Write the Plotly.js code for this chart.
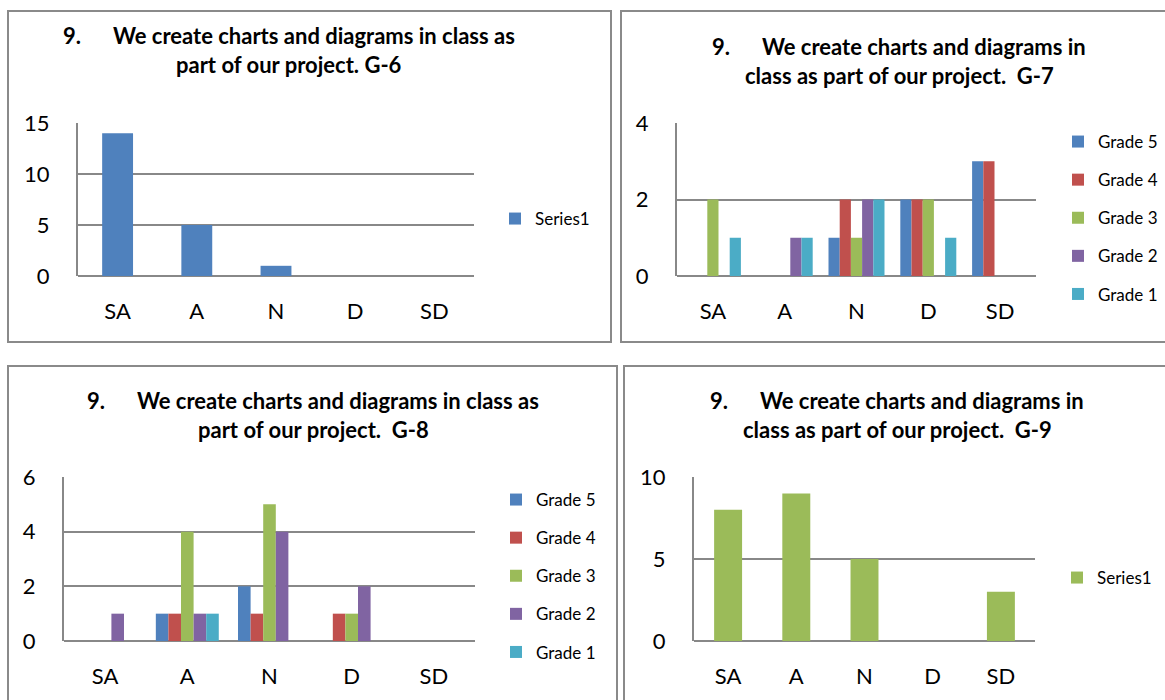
<!DOCTYPE html>
<html>
<head>
<meta charset="utf-8">
<script src="https://cdn.plot.ly/plotly-3.0.1.min.js"></script>
<style>
  html, body { margin: 0; padding: 0; width: 1165px; height: 700px; overflow: hidden; background: #fff; }
  .panel { position: absolute; }
  .frame { position: absolute; box-sizing: border-box; border: 2px solid #8a8a8a; pointer-events: none; z-index: 5; }
</style>
</head>
<body>
<div id="g6" class="panel"></div>
<div id="g7" class="panel"></div>
<div id="g8" class="panel"></div>
<div id="g9" class="panel"></div>
<script>
// ---------- data ----------
const categories = ['SA', 'A', 'N', 'D', 'SD'];
const seriesNames = ['Grade 5', 'Grade 4', 'Grade 3', 'Grade 2', 'Grade 1'];

const g6Series1 = [14, 5, 1, 0, 0];

const g7Grade5 = [0, 0, 1, 2, 3];
const g7Grade4 = [0, 0, 2, 2, 3];
const g7Grade3 = [2, 0, 1, 2, 0];
const g7Grade2 = [0, 1, 2, 0, 0];
const g7Grade1 = [1, 1, 2, 1, 0];

const g8Grade5 = [0, 1, 2, 0, 0];
const g8Grade4 = [0, 1, 1, 1, 0];
const g8Grade3 = [0, 4, 5, 1, 0];
const g8Grade2 = [1, 1, 4, 2, 0];
const g8Grade1 = [0, 1, 0, 0, 0];

const g9Series1 = [8, 9, 5, 0, 3];

const titleNumber = '9.';
const titleG6 = ['We create charts and diagrams in class as', 'part of our project. G-6'];
const titleG7 = ['We create charts and diagrams in', 'class as part of our project.  G-7'];
const titleG8 = ['We create charts and diagrams in class as', 'part of our project.  G-8'];
const titleG9 = ['We create charts and diagrams in', 'class as part of our project.  G-9'];

// ---------- styles ----------
const colors = ['#4F81BD', '#C0504D', '#9BBB59', '#8064A2', '#4BACC6'];
const FONT = 'Lato, "Open Sans", sans-serif';
const GRID = '#888888';

function nb(s) { return s.replace(/ /g, '\u00A0'); }

function makePanel(id, cfg) {
  const d = cfg.div, p = cfg.plot;
  const el = document.getElementById(id);
  el.style.left = d.x0 + 'px'; el.style.top = d.y0 + 'px';
  const W = d.x1 - d.x0, H = d.y1 - d.y0;
  el.style.width = W + 'px'; el.style.height = H + 'px';
  const fr = document.createElement('div');
  fr.className = 'frame';
  fr.style.left = (d.x0 - 1) + 'px'; fr.style.top = (d.y0 - 1) + 'px';
  fr.style.width = (W + 2) + 'px'; fr.style.height = (H + 2) + 'px';
  document.body.appendChild(fr);

  const pw = p.x1 - p.x0, ph = p.y1 - p.y0;
  const px2x = x => (x - p.x0) / pw;
  const px2y = y => (p.y1 - y) / ph;

  const traces = cfg.series.map((s, i) => ({
    type: 'bar', x: categories, y: s.values, name: s.name,
    marker: { color: s.color, line: { width: 0 } },
    legendgroup: 'g' + i, showlegend: true
  }));

  const sp = '\u00A0'.repeat(cfg.gapSpaces);
  const annotations = [
    { text: '<b>' + titleNumber + sp + nb(cfg.title[0]) + '</b>', x: px2x(cfg.titleX), y: px2y(cfg.titleY[0]) },
    { text: '<b>' + nb(cfg.title[1]) + '</b>', x: px2x(cfg.titleX), y: px2y(cfg.titleY[1]) }
  ].map(a => Object.assign(a, {
    xref: 'paper', yref: 'paper', xanchor: 'center', yanchor: 'middle',
    showarrow: false, font: { family: FONT, size: 22, color: '#000' }
  }));

  const layout = {
    width: W, height: H,
    margin: { l: p.x0 - d.x0, r: d.x1 - p.x1, t: p.y0 - d.y0, b: d.y1 - p.y1, pad: 0 },
    paper_bgcolor: '#fff', plot_bgcolor: '#fff',
    barmode: 'group', bargap: cfg.bargap, bargroupgap: 0,
    showlegend: true,
    legend: {
      xref: 'container', yref: 'container',
      x: (cfg.legendX - d.x0) / W, y: 1 - (cfg.legendY - d.y0) / H,
      xanchor: 'left', yanchor: cfg.legendAnchor,
      font: { family: FONT, size: 17, color: '#000' },
      tracegroupgap: 13, traceorder: 'grouped', bgcolor: 'rgba(0,0,0,0)',
      itemwidth: 30, maxheight: 400
    },
    xaxis: {
      type: 'category', categoryorder: 'array', categoryarray: categories,
      showgrid: false, zeroline: false, showline: false, ticks: '',
      ticklabelstandoff: 20,
      tickfont: { family: FONT, size: 22, color: '#000' }, fixedrange: true
    },
    yaxis: {
      range: [0, cfg.ymax], dtick: cfg.dtick, tick0: 0,
      showgrid: true, gridcolor: GRID, gridwidth: 2,
      zeroline: true, zerolinecolor: GRID, zerolinewidth: 2,
      showline: true, linecolor: GRID, linewidth: 2,
      ticks: '', ticklabelstandoff: 22,
      tickfont: { family: FONT, size: 22, color: '#000' }, fixedrange: true
    },
    annotations: annotations
  };
  Plotly.newPlot(el, traces, layout, { staticPlot: true, displayModeBar: false });
}

makePanel('g6', {
  div: { x0: 8, y0: 11, x1: 611, y1: 342 },
  plot: { x0: 78, y0: 123, x1: 474, y1: 276 },
  series: [{ name: 'Series1', values: g6Series1, color: colors[0] }],
  bargap: 0.61, ymax: 15, dtick: 5,
  title: titleG6, titleX: 289, titleY: [35, 64], gapSpaces: 6,
  legendX: 495, legendY: 219, legendAnchor: 'middle'
});

makePanel('g7', {
  div: { x0: 621, y0: 11, x1: 1181, y1: 342 },
  plot: { x0: 677, y0: 123, x1: 1036, y1: 276 },
  series: [g7Grade5, g7Grade4, g7Grade3, g7Grade2, g7Grade1].map((v, i) => ({ name: seriesNames[i], values: v, color: colors[i] })),
  bargap: 0.22, ymax: 4, dtick: 2,
  title: titleG7, titleX: 899, titleY: [46, 75], gapSpaces: 6,
  legendX: 1058, legendY: 124, legendAnchor: 'top'
});

makePanel('g8', {
  div: { x0: 8, y0: 366, x1: 617, y1: 716 },
  plot: { x0: 64, y0: 477, x1: 475, y1: 641 },
  series: [g8Grade5, g8Grade4, g8Grade3, g8Grade2, g8Grade1].map((v, i) => ({ name: seriesNames[i], values: v, color: colors[i] })),
  bargap: 0.234, ymax: 6, dtick: 2,
  title: titleG8, titleX: 313, titleY: [400, 430], gapSpaces: 6,
  legendX: 496, legendY: 482, legendAnchor: 'top'
});

makePanel('g9', {
  div: { x0: 624, y0: 366, x1: 1181, y1: 716 },
  plot: { x0: 694, y0: 477, x1: 1035, y1: 641 },
  series: [{ name: 'Series1', values: g9Series1, color: colors[2] }],
  bargap: 0.59, ymax: 10, dtick: 5,
  title: titleG9, titleX: 897, titleY: [400, 430], gapSpaces: 6,
  legendX: 1057, legendY: 578, legendAnchor: 'middle'
});
</script>
</body>
</html>
